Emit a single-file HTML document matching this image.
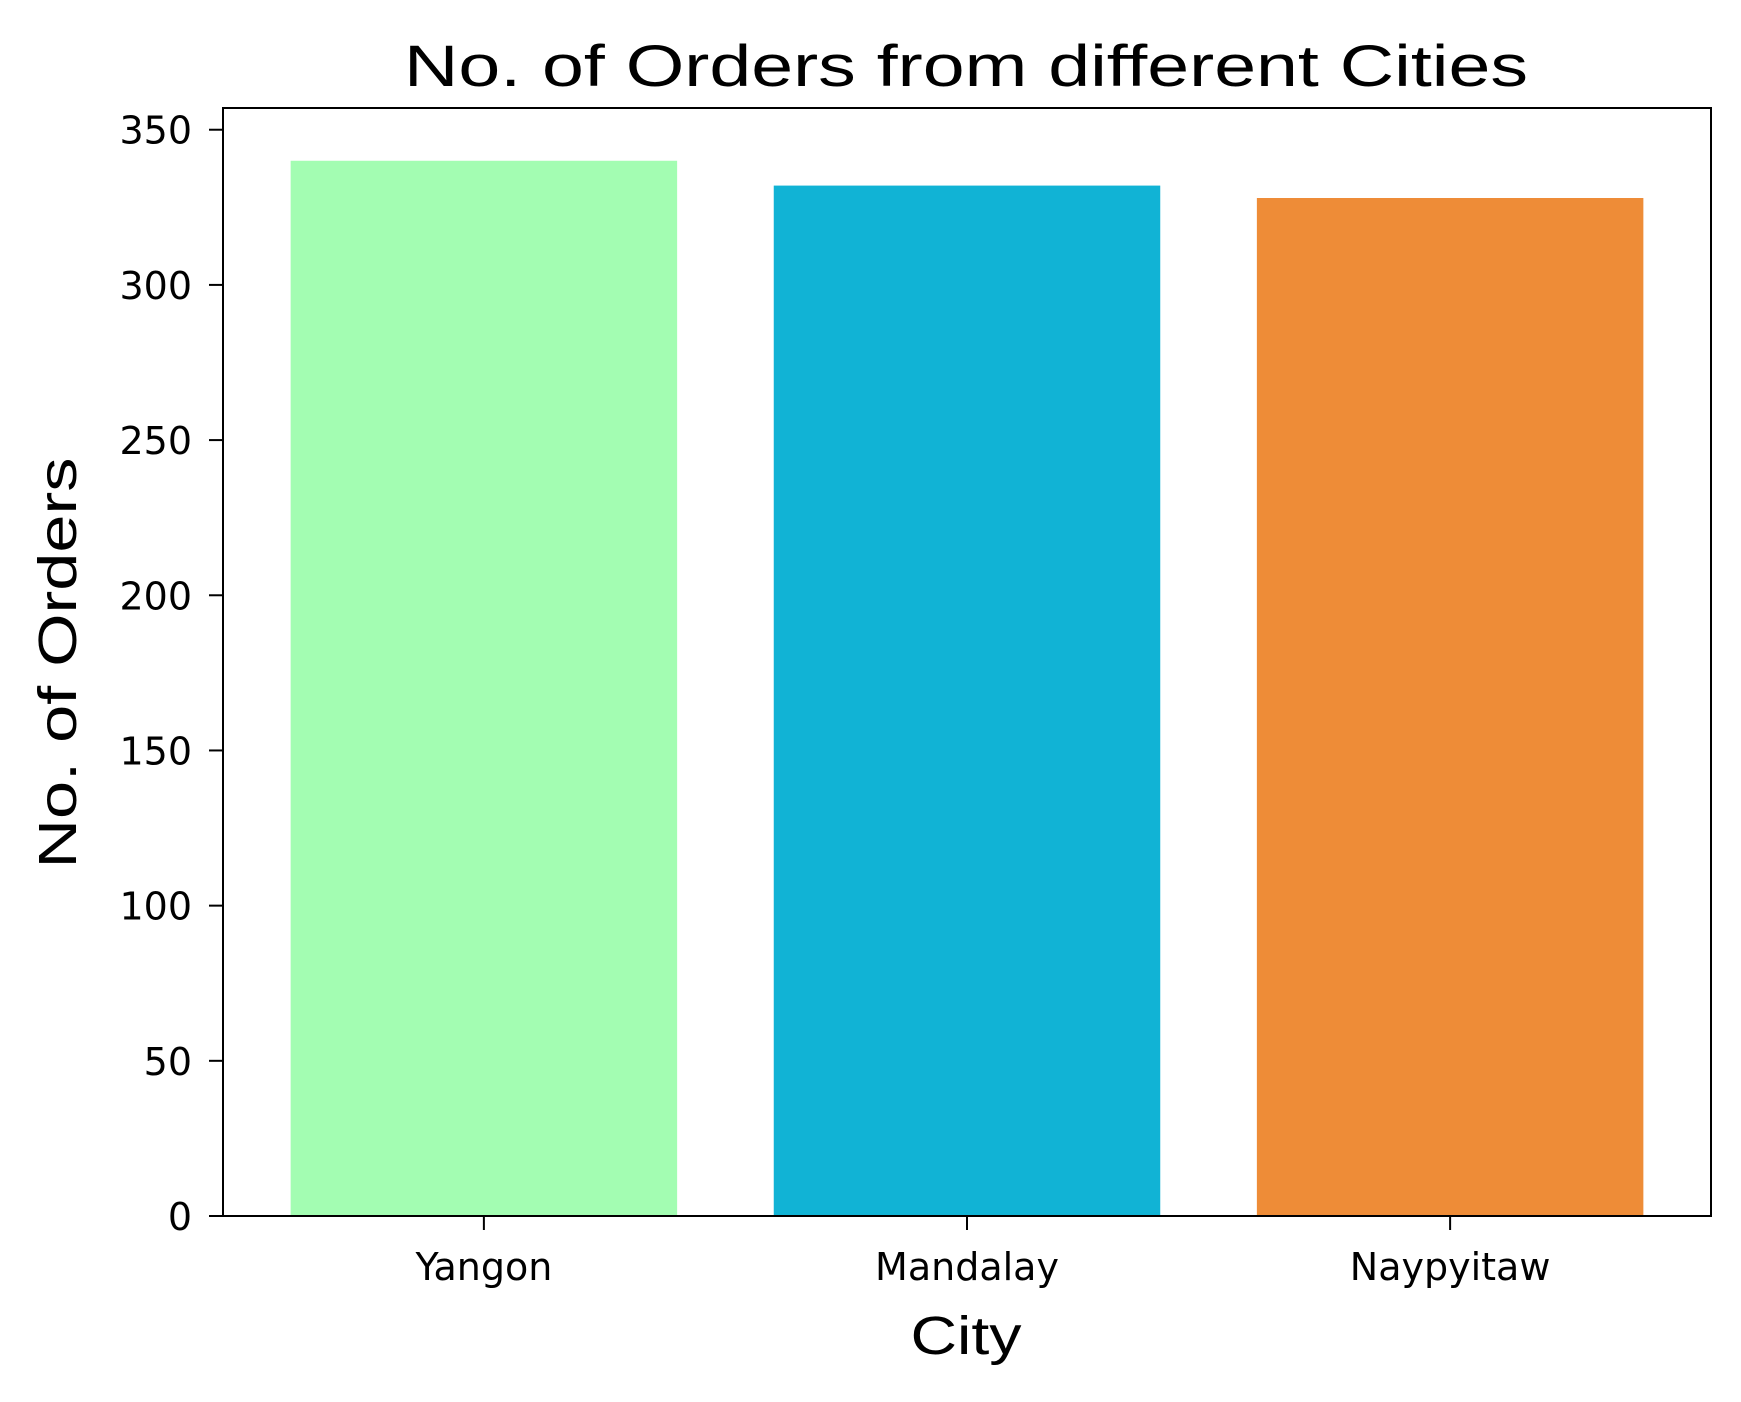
<!DOCTYPE html>
<html><head><meta charset="utf-8"><style>body{margin:0;background:#fff}svg{display:block}</style></head>
<body>
<svg id="chart" width="1741" height="1402" xmlns="http://www.w3.org/2000/svg">
<rect width="1741" height="1402" fill="#fff"/>
<text x="966" y="86" text-anchor="middle" font-family="'Comic Sans MS','Liberation Sans',sans-serif" font-size="58" textLength="1124" lengthAdjust="spacingAndGlyphs" fill="#000">No. of Orders from different Cities</text>
<text transform="translate(76,663) rotate(-90)" text-anchor="middle" font-family="'Comic Sans MS','Liberation Sans',sans-serif" font-size="54" textLength="411" lengthAdjust="spacingAndGlyphs" fill="#000">No. of Orders</text>
<text x="966" y="1354" text-anchor="middle" font-family="'Comic Sans MS','Liberation Sans',sans-serif" font-size="54" textLength="111" lengthAdjust="spacingAndGlyphs" fill="#000">City</text>
<g id="bars"></g><g id="axes"></g>
</svg>
<script>
const categories = ["Yangon","Mandalay","Naypyitaw"];
const values = [340, 332, 328];
const colors = ["#a3fdb2","#11b3d5","#ee8c37"];
const yTicks = [0,50,100,150,200,250,300,350];

const L=223,R=1711,T=108,B=1216,yMax=357,xMin=-0.54,xMax=2.54;
const sx=v=>L+(v-xMin)/(xMax-xMin)*(R-L);
const sy=v=>B-v/yMax*(B-T);
const NS="http://www.w3.org/2000/svg";
const bars=document.getElementById('bars'),axes=document.getElementById('axes');
function mk(tag,attrs,parent){const e=document.createElementNS(NS,tag);for(const k in attrs)e.setAttribute(k,attrs[k]);parent.appendChild(e);return e;}
values.forEach((v,i)=>{
  const r=mk('rect',{x:sx(i-0.4),y:sy(v),width:sx(i+0.4)-sx(i-0.4),height:sy(0)-sy(v),fill:colors[i]},bars);
  
  
  const t=mk('line',{x1:sx(i),x2:sx(i),y1:B,y2:B+14,stroke:'#000','stroke-width':2},axes);
  
  
  const l=mk('text',{x:sx(i),y:B+64,'text-anchor':'middle','font-family':"'DejaVu Sans',sans-serif",'font-size':38},axes);
  l.textContent=categories[i];
  
  
});
yTicks.forEach(v=>{
  const t=mk('line',{x1:L-14,x2:L,y1:sy(v),y2:sy(v),stroke:'#000','stroke-width':2},axes);
  
  
  const l=mk('text',{x:L-31,y:sy(v)+14,'text-anchor':'end','font-family':"'DejaVu Sans',sans-serif",'font-size':38},axes);
  l.textContent=v;
  
  
});
const f=mk('rect',{x:L,y:T,width:R-L,height:B-T,fill:'none',stroke:'#000','stroke-width':2},axes);


</script>
</body></html>
